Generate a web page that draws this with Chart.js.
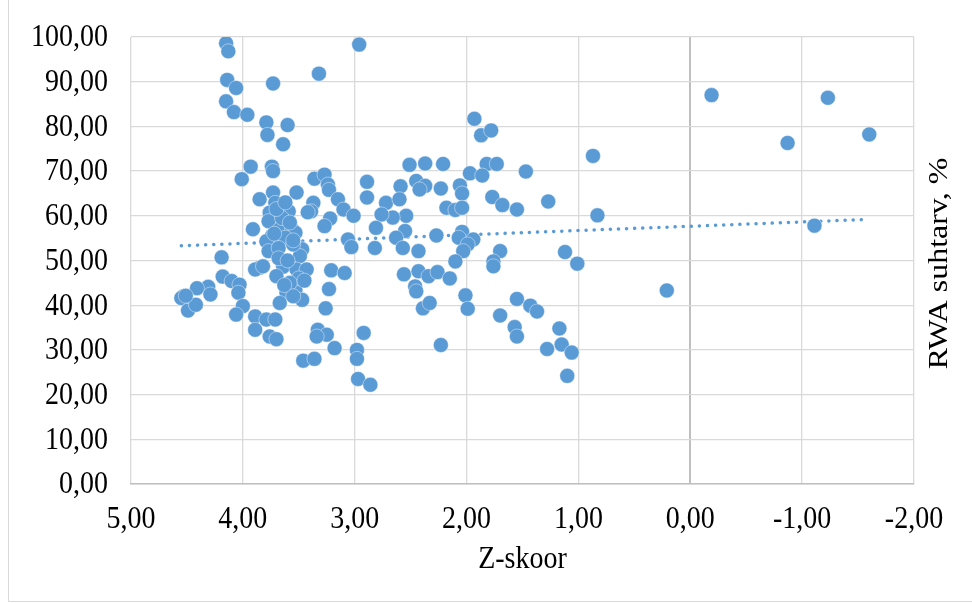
<!DOCTYPE html>
<html>
<head>
<meta charset="utf-8">
<script src="https://cdn.jsdelivr.net/npm/chart.js@4/dist/chart.umd.min.js"></script>
<style>
  html, body { margin: 0; padding: 0; background: #fff; }
  #wrap { position: absolute; left: 0; top: 0; width: 972px; height: 603px; }
</style>
</head>
<body>
<div id="wrap"><canvas id="chart" width="972" height="603"></canvas></div>
<script>
// Z-skoor (x) vs RWA suhtarv, % (y)
const zScore = [
  4.15, 4.13, 4.14, 4.06, 4.15, 4.08, 3.96, 3.73, 3.79, 3.78,
  3.60, 3.64, 3.32, 2.96, 3.93, 3.74, 3.73, 4.01, 3.36, 3.27,
  3.24, 3.23, 3.73, 3.52, 3.85, 3.71, 3.37, 3.39, 3.42, 3.59,
  3.76, 3.77, 3.15, 3.10, 3.01, 3.22, 3.27, 3.91, 3.67, 3.56,
  3.53, 3.74, 3.62, 3.79, 3.06, 3.03, 3.77, 3.68, 3.47, 3.49,
  3.55, 4.19, 3.85, 3.89, 3.82, 3.64, 3.52, 3.43, 3.70, 3.21,
  3.09, 4.18, 4.10, 4.03, 4.04, 4.31, 4.41, 4.53, 4.55, 4.49,
  4.42, 4.29, 3.61, 3.53, 3.47, 3.67, 3.23, 3.26, 4.00, 4.06,
  3.89, 3.79, 3.71, 3.89, 3.76, 3.70, 3.33, 3.25, 3.34, 3.18,
  3.46, 3.36, 2.92, 2.98, 2.98, 2.97, 2.86,
  1.93, 1.87, 1.78, 2.51, 2.37, 2.21, 1.97, 1.82, 1.73, 1.86,
  1.47, 2.89, 2.89, 2.59, 2.45, 2.37, 2.42, 2.23, 2.06, 2.04,
  1.77, 1.68, 1.55, 1.27, 2.18, 2.10, 2.04, 2.72, 2.60, 2.54,
  2.66, 2.76, 2.81, 2.55, 2.63, 2.57, 2.43, 2.82, 2.27, 2.04,
  2.07, 1.94, 1.99, 2.03, 2.10, 1.70, 1.76, 1.76, 1.12, 1.01,
  2.56, 2.43, 2.34, 2.26, 2.15, 2.46, 2.45, 2.39, 2.33, 2.01,
  1.99, 1.55, 1.43, 1.37, 1.70, 1.57, 1.55, 1.17, 1.15, 1.28,
  1.06, 1.10, 2.23, 0.87, 0.83, 0.21, -0.19, -0.87, -1.23, -1.60,
  -1.11,
  3.65, 3.58, 3.70, 3.62, 3.55, 3.50, 3.58, 3.45, 3.55, 3.63,
  3.72, 3.68, 3.60, 4.51
];
const rwa = [
  98.6, 96.8, 90.4, 88.6, 85.6, 83.2, 82.6, 89.6, 80.9, 78.1,
  80.3, 76.0, 91.8, 98.3, 71.0, 71.0, 70.0, 68.2, 68.3, 69.2,
  67.0, 65.8, 65.2, 65.2, 63.7, 62.9, 62.9, 61.0, 60.8, 61.0,
  60.7, 58.8, 63.7, 61.4, 60.0, 59.4, 57.7, 57.0, 57.0, 57.0,
  56.2, 55.5, 55.1, 54.3, 54.7, 53.0, 52.1, 52.8, 52.5, 51.0,
  53.6, 50.7, 48.4, 48.0, 48.7, 48.6, 48.0, 48.0, 46.5, 47.8,
  47.2, 46.4, 45.4, 44.6, 42.8, 44.1, 43.8, 42.0, 41.6, 38.8,
  40.1, 42.4, 42.8, 43.4, 41.2, 40.5, 43.6, 39.3, 39.8, 37.9,
  37.5, 36.8, 36.8, 34.5, 33.0, 32.4, 34.5, 33.4, 33.0, 30.4,
  27.6, 28.0, 33.8, 30.0, 28.0, 23.5, 22.2,
  81.7, 78.0, 79.1, 71.4, 71.7, 71.6, 69.5, 71.6, 71.6, 69.0,
  69.9, 67.6, 64.1, 66.6, 67.8, 66.7, 65.9, 66.1, 66.8, 65.0,
  64.2, 62.4, 61.4, 63.2, 61.8, 61.3, 61.8, 62.9, 63.7, 60.0,
  59.6, 60.3, 57.3, 56.6, 55.1, 52.8, 52.1, 52.8, 55.6, 56.4,
  55.1, 54.7, 53.6, 52.1, 49.8, 52.1, 49.8, 48.7, 51.9, 49.3,
  46.9, 47.6, 46.5, 47.4, 46.0, 44.2, 43.1, 39.3, 40.5, 42.2,
  39.2, 41.4, 39.9, 38.6, 37.7, 35.1, 33.0, 34.8, 31.2, 30.2,
  29.4, 24.2, 31.1, 73.4, 60.1, 43.3, 87.0, 76.3, 86.4, 78.2,
  57.8,
  59.5, 58.5, 61.5, 63.0, 54.5, 46.0, 45.0, 45.5, 42.0, 44.5,
  56.0, 50.5, 50.0, 42.1
];
// linear trend end points
const trendX = [4.55, -1.60];
const trendY = [53.3, 59.2];

const xTitle = 'Z-skoor';
const yTitle = 'RWA suhtarv, %';

const blue = '#5b9bd5';
const gridGrey = '#d9d9d9';
const fontFamily = '"Liberation Serif", "Times New Roman", serif';
const stretch = 1.14; // the reference text is a little taller than wide
const fmt = v => v.toFixed(2).replace('.', ',');

function tallText(ctx, text, x, y, align) {
  ctx.save();
  ctx.translate(x, y);
  ctx.scale(1, stretch);
  ctx.textAlign = align;
  ctx.textBaseline = 'middle';
  ctx.fillText(text, 0, 0);
  ctx.restore();
}

const textPlugin = {
  id: 'texts',
  afterDraw(chart) {
    const { ctx, chartArea, scales } = chart;
    ctx.save();
    ctx.fillStyle = '#000';
    ctx.font = '28px ' + fontFamily;
    scales.x.ticks.forEach(t => {
      tallText(ctx, fmt(t.value), scales.x.getPixelForValue(t.value), 520, 'center');
    });
    scales.y.ticks.forEach(t => {
      tallText(ctx, fmt(t.value), 108, scales.y.getPixelForValue(t.value) + 1, 'right');
    });
    tallText(ctx, xTitle, (chartArea.left + chartArea.right) / 2, 560, 'center');
    ctx.translate(940, (chartArea.top + chartArea.bottom) / 2 + 3);
    ctx.rotate(-Math.PI / 2);
    ctx.scale(stretch, 1);
    ctx.textAlign = 'center';
    ctx.textBaseline = 'middle';
    ctx.fillText(yTitle, 0, 0);
    ctx.restore();
    // outer chart frame (left and bottom edges visible)
    ctx.save();
    ctx.strokeStyle = gridGrey;
    ctx.lineWidth = 1;
    ctx.beginPath();
    ctx.moveTo(8.5, 0);
    ctx.lineTo(8.5, 601.5);
    ctx.lineTo(972, 601.5);
    ctx.stroke();
    ctx.restore();
  }
};

new Chart(document.getElementById('chart'), {
  type: 'scatter',
  data: {
    datasets: [
      {
        label: 'RWA',
        data: zScore.map((x, i) => ({ x: x, y: rwa[i] })),
        backgroundColor: blue,
        borderColor: 'rgba(255,255,255,0.7)',
        borderWidth: 0.6,
        pointRadius: 7.5,
        order: 1
      },
      {
        type: 'line',
        label: 'Trend',
        data: trendX.map((x, i) => ({ x: x, y: trendY[i] })),
        borderColor: blue,
        borderWidth: 3.5,
        borderDash: [0.1, 8],
        borderCapStyle: 'round',
        pointRadius: 0,
        fill: false,
        order: 2
      }
    ]
  },
  options: {
    responsive: false,
    devicePixelRatio: 1,
    animation: false,
    layout: { padding: { left: 0, right: 58, top: 37, bottom: 0 } },
    plugins: {
      legend: { display: false },
      tooltip: { enabled: false }
    },
    scales: {
      x: {
        type: 'linear',
        reverse: true,
        min: -2,
        max: 5,
        afterFit: s => { s.height = 119; },
        grid: {
          color: ctx => (ctx.tick && ctx.tick.value === 0 ? '#bfbfbf' : gridGrey),
          lineWidth: ctx => (ctx.tick && ctx.tick.value === 0 ? 2 : 1.3),
          drawTicks: false
        },
        border: { display: true, color: '#bfbfbf', width: 1.5 },
        ticks: { stepSize: 1, display: false }
      },
      y: {
        min: 0,
        max: 100,
        afterFit: s => { s.width = 131; },
        grid: { color: gridGrey, lineWidth: 1.3, drawTicks: false },
        border: { display: false },
        ticks: { stepSize: 10, display: false }
      }
    }
  },
  plugins: [textPlugin]
});
</script>
</body>
</html>
